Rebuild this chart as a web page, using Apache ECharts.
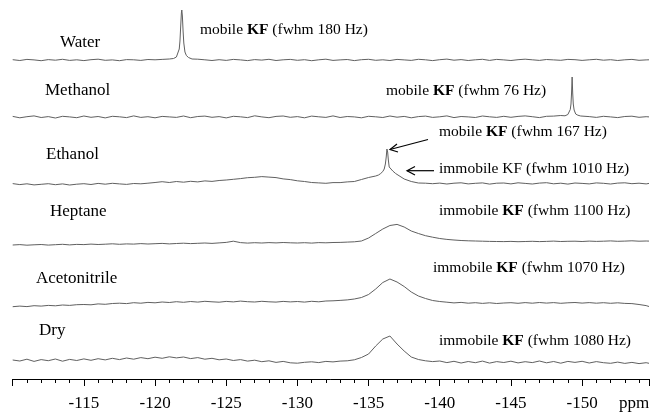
<!DOCTYPE html>
<html>
<head>
<meta charset="utf-8">
<script src="https://cdn.jsdelivr.net/npm/echarts@6/dist/echarts.min.js"></script>
<style>
  html, body { margin: 0; padding: 0; background: #fff; }
  #chart { width: 655px; height: 412px; }
</style>
</head>
<body>
<div id="chart"></div>
<script>
    // chemical shift grid (ppm), 0.5 ppm steps
    const ppmGrid = [-110, -110.5, -111, -111.5, -112, -112.5, -113, -113.5, -114, -114.5,
        -115, -115.5, -116, -116.5, -117, -117.5, -118, -118.5, -119, -119.5,
        -120, -120.5, -121, -121.5, -122, -122.5, -123, -123.5, -124, -124.5,
        -125, -125.5, -126, -126.5, -127, -127.5, -128, -128.5, -129, -129.5,
        -130, -130.5, -131, -131.5, -132, -132.5, -133, -133.5, -134, -134.5,
        -135, -135.5, -136, -136.5, -137, -137.5, -138, -138.5, -139, -139.5,
        -140, -140.5, -141, -141.5, -142, -142.5, -143, -143.5, -144, -144.5,
        -145, -145.5, -146, -146.5, -147, -147.5, -148, -148.5, -149, -149.5,
        -150, -150.5, -151, -151.5, -152, -152.5, -153, -153.5, -154, -154.5, -154.7];

    const sampleNames = ['Water', 'Methanol', 'Ethanol', 'Heptane', 'Acetonitrile', 'Dry'];

    // intensities on ppmGrid (arbitrary units)
    const waterInt = [0.3, -0.5, 0.6, 0.1, -0.7, 0.4, -0.2, 0.7, -0.4, 0.2,
        -0.6, 0.3, 0.8, -0.3, 0.1, -0.7, 0.4, 0.2, -0.4, 0.5,
        0.2, 0.6, 1.0, 4, 40, 3, 0.8, 0.2, -0.5, 0.3,
        -0.4, 0.6, 0.1, -0.6, 0.4, -0.1, 0.7, -0.5, 0.2, 0.6,
        -0.3, 0.3, -0.7, 0.2, 0.8, -0.4, 0.1, 0.5, -0.6, 0.3,
        0.7, -0.3, 0.2, -0.5, 0.6, 0.1, -0.4, 0.7, 0.2, -0.6,
        0.3, 0.9, -0.2, 0.4, -0.5, 0.2, 0.7, -0.4, 0.6, 0.1,
        -0.5, 0.3, 0.8, 0.2, -0.4, 0.5, 0.1, -0.3, 0.6, 0.3,
        -0.4, 0.2, 0.7, -0.2, 0.3, -0.5, 0.2, 0.6, -0.3, 0.1, 0.2];
    const waterPeakPpm = [-121.3, -121.5, -121.6, -121.7, -121.75, -121.8, -121.85, -121.88,
        -121.92, -121.97, -122.02, -122.1, -122.2, -122.35, -122.6];
    const waterPeakInt = [1.5, 3, 5, 11, 19, 33, 47, 50, 44, 29, 17, 8, 4.5, 2.5, 1];

    const methanolInt = [0.6, -0.8, 0.3, 1.1, -0.5, 0.4, -1.0, 0.7, 0.1, -0.7,
        1.0, -0.3, 0.5, -0.9, 0.7, 0.2, -0.6, 1.1, -0.4, 0.3,
        -0.8, 0.6, 0.1, -0.4, 1.0, -0.7, 0.5, 0.9, -0.3, 0.4,
        -0.9, 0.7, 0.2, -0.6, 1.2, 0.1, -0.7, 0.6, 1.0, -0.3,
        0.4, -0.8, 0.9, 0.2, -0.4, 1.1, -0.5, 0.5, 0.1, -0.8,
        0.7, 0.2, -0.5, 1.0, -0.2, 0.6, -0.8, 0.4, 0.9, -0.4,
        0.2, 1.1, -0.6, 0.5, 0.1, -0.5, 1.0, 0.2, -0.4, 0.7,
        -0.3, 0.6, 1.1, 0.3, -0.6, 0.7, 0.9, 1.5, 4, 1.8,
        1.0, 0.4, -0.4, 0.7, 0.1, -0.6, 0.5, 0.8, -0.3, 0.3, 0.1];
    const methanolPeakPpm = [-148.8, -149.0, -149.1, -149.17, -149.22, -149.26, -149.3,
        -149.34, -149.38, -149.44, -149.55, -149.7, -149.9];
    const methanolPeakInt = [1.2, 2.5, 4, 7.5, 13, 24, 40, 24, 13, 7, 3, 1.8, 1];

    const ethanolInt = [0.4, -0.6, 0.2, -0.9, -0.3, 0.3, -0.7, 0.1, -1.0, -0.2,
        0.3, -0.5, 0.6, -0.2, 0.7, 0.1, -0.4, 0.5, 0.2, 0.8,
        1.5, 2.3, 1.5, 2.5, 1.8, 2.7, 2.1, 3.1, 2.6, 3.5,
        4.0, 4.7, 5.4, 6.3, 6.7, 7.4, 6.9, 6.4, 5.1, 4.4,
        3.2, 2.5, 1.5, 1.1, 0.7, 1.4, 1.4, 2.1, 2.5, 4.5,
        6.5, 8.0, 13, 15, 9.0, 5.0, 2.5, 1.0, 0.8, 0.3,
        0.9, 0.0, 0.8, 1.2, 0.1, 0.7, 1.1, -0.1, 0.8, 1.0,
        0.1, 1.2, 0.6, 0.0, 0.9, 1.3, 0.2, 0.8, -0.1, 1.0,
        0.6, 0.1, 1.1, 0.7, 0.0, 0.9, 1.2, 0.3, 0.8, 0.1, 0.6];
    const ethanolPeakPpm = [-135.7, -135.85, -136.0, -136.1, -136.18, -136.24, -136.29, -136.31,
        -136.34, -136.39, -136.45, -136.55, -136.7, -136.9];
    const ethanolPeakInt = [9, 10.5, 12.5, 15, 20, 27, 35, 36, 32, 24, 17, 15, 13, 10.5];

    const heptaneInt = [-2.0, -1.6, -2.2, -1.8, -1.5, -2.1, -1.7, -1.3, -1.9, -1.4,
        -1.6, -1.1, -1.5, -1.2, -0.8, -1.3, -0.9, -1.1, -0.6, -1.0,
        -0.7, -0.4, -0.9, -0.5, -0.2, -0.6, -0.3, 0.0, -0.4, 0.1,
        0.6, 1.8, 0.4, -0.1, 0.3, 0.0, 0.4, 0.1, 0.5, 0.2,
        0.0, 0.3, -0.1, 0.4, 0.2, 0.5, 0.6, 0.9, 1.2, 2.0,
        5.0, 9.5, 14.0, 17.5, 18.6, 16.0, 12.0, 9.5, 7.3, 5.8,
        4.5, 3.6, 3.0, 2.5, 2.2, 2.0, 1.8, 1.6, 1.5, 1.4,
        1.6, 1.3, 1.5, 1.7, 1.4, 1.6, 1.9, 1.5, 1.7, 1.8,
        1.5, 1.9, 1.6, 1.8, 2.1, 1.7, 1.9, 2.2, 1.8, 2.0, 1.9];

    const acetonitrileInt = [-2.7, -2.1, -2.6, -1.7, -2.1, -1.4, -1.8, -1.0, -1.4, -0.7,
        -0.5, -0.8, 0.1, -0.3, 0.5, 0.8, 0.4, 1.3, 0.8, 1.6,
        1.2, 2.0, 1.5, 2.3, 1.7, 2.5, 1.9, 2.7, 2.2, 1.8,
        2.6, 2.1, 2.9, 2.3, 2.0, 2.7, 2.2, 1.9, 2.6, 2.1,
        2.5, 1.9, 2.7, 2.2, 3.0, 3.2, 3.6, 4.1, 5.0, 6.5,
        9.5, 15.0, 21.5, 25.0, 22.0, 17.5, 12.0, 8.0, 5.5, 3.5,
        2.5, 1.8, 1.1, 1.6, 0.8, 1.3, 0.6, 1.2, 0.5, 1.0,
        1.3, 0.7, 1.4, 0.8, 1.5, 0.9, 1.4, 0.7, 1.2, 1.5,
        0.9, 1.4, 0.8, 1.3, 0.7, 1.2, 0.6, 0.4, -0.5, -1.6, -2.5];

    const dryInt = [2.0, 1.0, 2.8, 0.6, 2.4, 1.3, 3.0, 0.8, 2.6, 1.5,
        3.1, 1.7, 3.3, 2.1, 3.7, 2.4, 4.0, 2.8, 4.4, 3.3,
        4.8, 3.7, 5.2, 4.1, 5.0, 3.4, 4.4, 2.8, 3.7, 2.2,
        3.0, 1.5, 2.4, 0.9, 1.8, 0.3, 1.2, -0.4, 0.6, -0.8,
        -1.2, -0.3, 0.2, -0.6, 0.6, 0.1, 0.9, 1.2, 2.2, 4.5,
        8.0, 16.0, 23.0, 26.0, 18.0, 11.0, 5.0, 2.5, 1.2, 0.4,
        1.0, -0.6, 0.7, -1.0, 0.5, -0.7, 0.9, -1.1, 0.4, -0.5,
        0.8, -0.9, 0.3, -0.6, 1.0, -0.8, 0.5, -1.2, 0.6, -0.4,
        0.7, -1.0, 0.4, -0.7, -1.3, -0.1, -1.4, -0.4, -1.6, -0.7, -1.3];

    const tickLabels = [-115, -120, -125, -130, -135, -140, -145, -150];
    const majorTicks = [-110, -115, -120, -125, -130, -135, -140, -145, -150, -154.7];
    const minorTicks = [-111, -112, -113, -114, -116, -117, -118, -119, -121, -122, -123, -124,
        -126, -127, -128, -129, -131, -132, -133, -134, -136, -137, -138, -139,
        -141, -142, -143, -144, -146, -147, -148, -149, -151, -152, -153, -154];

    // merge the fine-resolution peak points into the base grid
    function buildData(base, peakPpm, peakInt) {
        let pts = [];
        let lo = peakPpm ? Math.min.apply(null, peakPpm) : 0;
        let hi = peakPpm ? Math.max.apply(null, peakPpm) : 0;
        ppmGrid.forEach(function (p, i) {
            if (!peakPpm || p > hi || p < lo) pts.push([p, base[i]]);
        });
        if (peakPpm) {
            peakPpm.forEach(function (p, i) {
                pts.push([p, peakInt[i]]);
            });
        }
        pts.sort(function (a, b) { return b[0] - a[0]; });
        return pts;
    }

    const spectra = [
        buildData(waterInt, waterPeakPpm, waterPeakInt),
        buildData(methanolInt, methanolPeakPpm, methanolPeakInt),
        buildData(ethanolInt, ethanolPeakPpm, ethanolPeakInt),
        buildData(heptaneInt),
        buildData(acetonitrileInt),
        buildData(dryInt)
    ];

    const FONT = 'Liberation Serif';
    const baselines = [60, 117, 184, 243, 304, 362];
    const namePos = [[60, 42.5], [45, 91], [46, 155], [50, 212], [36, 279], [39, 331]];

    let grids = [], xAxes = [], yAxes = [], series = [];
    baselines.forEach(function (b, i) {
        grids.push({left: 12.7, right: 6, top: b - 55, height: 72});
        let last = i === baselines.length - 1;
        xAxes.push({
            type: 'value', gridIndex: i, min: -154.7, max: -110, inverse: true,
            position: 'bottom', show: last,
            axisLine: {show: true, onZero: false, lineStyle: {color: '#000', width: 1}},
            axisTick: {show: false},
            axisLabel: {
                show: true, customValues: tickLabels, margin: 16,
                fontFamily: FONT, fontSize: 17, color: '#000'
            },
            splitLine: {show: false}
        });
        yAxes.push({type: 'value', gridIndex: i, min: -17, max: 55, show: false});
        series.push({
            name: sampleNames[i], type: 'line', xAxisIndex: i, yAxisIndex: i,
            data: spectra[i], showSymbol: false, clip: false,
            lineStyle: {color: '#606060', width: 1}
        });
    });
    // tick-only axes on the ppm scale: long ticks every 5 ppm, short ones every 1 ppm
    [[majorTicks, 7], [minorTicks, 4]].forEach(function (t) {
        xAxes.push({
            type: 'value', gridIndex: 5, min: -154.7, max: -110, inverse: true, position: 'bottom',
            axisLine: {show: false, onZero: false},
            axisTick: {show: true, length: t[1], customValues: t[0], lineStyle: {color: '#000', width: 1}},
            axisLabel: {show: false},
            splitLine: {show: false}
        });
    });

    let graphics = [];
    sampleNames.forEach(function (n, i) {
        graphics.push({
            type: 'text', x: namePos[i][0], y: namePos[i][1],
            style: {text: n, fill: '#000', fontFamily: FONT, fontSize: 17, verticalAlign: 'middle'}
        });
    });
    const notes = [
        ['mobile {b|KF} (fwhm 180 Hz)', 200, 30],
        ['mobile {b|KF} (fwhm 76 Hz)', 386, 91],
        ['mobile {b|KF} (fwhm 167 Hz)', 439, 132],
        ['immobile KF (fwhm 1010 Hz)', 439, 168.5],
        ['immobile {b|KF} (fwhm 1100 Hz)', 439, 211],
        ['immobile {b|KF} (fwhm 1070 Hz)', 433, 268],
        ['immobile {b|KF} (fwhm 1080 Hz)', 439, 341]
    ];
    notes.forEach(function (n) {
        graphics.push({
            type: 'text', x: n[1], y: n[2],
            style: {
                text: n[0], fill: '#000', fontFamily: FONT, fontSize: 15.5, verticalAlign: 'middle',
                rich: {b: {fontFamily: FONT, fontSize: 15.5, fontWeight: 'bold', fill: '#000'}}
            }
        });
    });
    // arrows pointing at the ethanol peaks
    const arrowStyle = {stroke: '#000', lineWidth: 1.2, fill: null};
    graphics.push({type: 'polyline', shape: {points: [[428, 139.5], [390, 149.5]]}, style: arrowStyle});
    graphics.push({type: 'polyline', shape: {points: [[398, 152], [390, 149.5], [397, 144]]}, style: arrowStyle});
    graphics.push({type: 'polyline', shape: {points: [[434, 170.7], [407, 170.7]]}, style: arrowStyle});
    graphics.push({type: 'polyline', shape: {points: [[415, 166.5], [407, 170.7], [415, 175]]}, style: arrowStyle});
    graphics.push({
        type: 'text', x: 619, y: 404,
        style: {text: 'ppm', fill: '#000', fontFamily: FONT, fontSize: 17, verticalAlign: 'middle'}
    });

    let myChart = echarts.init(document.getElementById('chart'));
    myChart.setOption({
        animation: false,
        backgroundColor: '#fff',
        grid: grids,
        xAxis: xAxes,
        yAxis: yAxes,
        series: series,
        graphic: graphics
    });
</script>
</body>
</html>
